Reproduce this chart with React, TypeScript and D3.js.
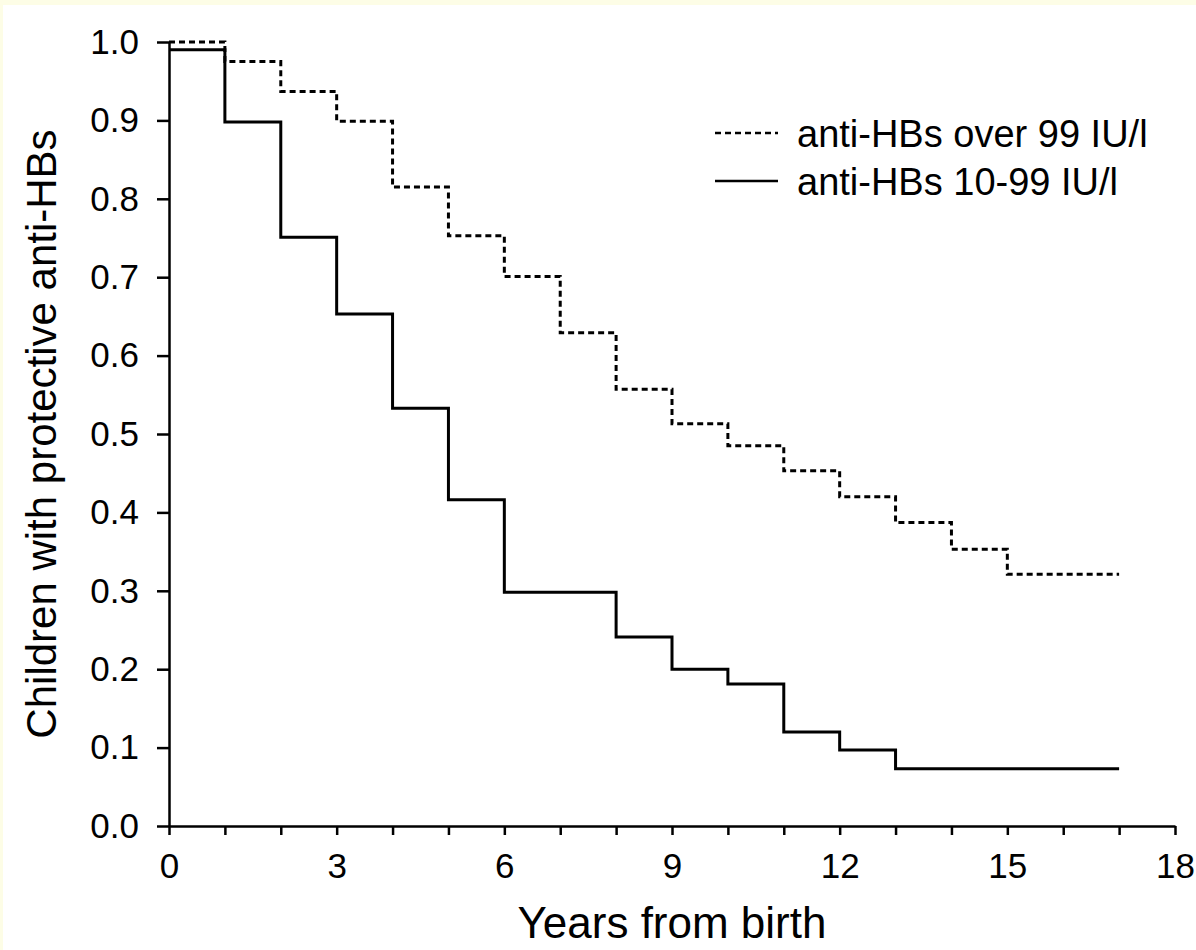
import * as d3 from 'd3';
import React, { useEffect, useRef } from 'react';

// years at which each curve steps, and the proportion still protected
const highYears = [0, 1, 2, 3, 4, 5, 6, 7, 8, 9, 10, 11, 12, 13, 14, 15, 17];
const highValues = [1.0, 0.975, 0.937, 0.899, 0.815, 0.753, 0.701, 0.629, 0.557, 0.513, 0.485, 0.453, 0.42, 0.387, 0.353, 0.321, 0.321];

const lowYears = [0, 1, 2, 3, 4, 5, 6, 8, 9, 10, 11, 12, 13, 17];
const lowValues = [0.99, 0.898, 0.751, 0.653, 0.533, 0.416, 0.298, 0.241, 0.2, 0.181, 0.12, 0.097, 0.073, 0.073];

const seriesNames = ['anti-HBs over 99 IU/l', 'anti-HBs 10-99 IU/l'];
const xTicks = [0, 3, 6, 9, 12, 15, 18];
const yTicks = [0, 0.1, 0.2, 0.3, 0.4, 0.5, 0.6, 0.7, 0.8, 0.9, 1.0];

const width = 1196;
const height = 950;
const font = 'Arial, "Liberation Sans", sans-serif';

export default function App() {
  const ref = useRef<SVGSVGElement | null>(null);

  useEffect(() => {
    const svg = d3.select(ref.current);
    svg.selectAll('*').remove();

    svg.append('rect').attr('width', width).attr('height', height).attr('fill', '#fff');
    svg.append('rect').attr('width', width).attr('height', 5).attr('fill', '#fdfde6');
    svg.append('rect').attr('width', 3).attr('height', height).attr('fill', '#fdfde6');

    const x = d3.scaleLinear().domain([0, 18]).range([169, 1175]);
    const y = d3.scaleLinear().domain([0, 1]).range([826, 42]);

    const line = d3.line<[number, number]>()
      .x((d) => x(d[0]))
      .y((d) => y(d[1]))
      .curve(d3.curveStepAfter);

    const high = highYears.map((t, i) => [t, highValues[i]] as [number, number]);
    const low = lowYears.map((t, i) => [t, lowValues[i]] as [number, number]);

    // axes
    const xAxis = svg.append('g')
      .attr('transform', `translate(0,${y(0)})`)
      .call(d3.axisBottom(x).tickValues(d3.range(0, 19)).tickSize(9).tickSizeOuter(0)
        .tickFormat((d) => (xTicks.includes(+d) ? String(d) : '')));
    xAxis.select('.domain').attr('stroke-width', 2.5);
    xAxis.selectAll('.tick line').attr('stroke-width', 2.5);
    xAxis.selectAll('.tick text')
      .attr('font-family', font).attr('font-size', 35).attr('fill', '#000').attr('dy', '1.15em');

    const yAxis = svg.append('g')
      .attr('transform', `translate(${x(0)},0)`)
      .call(d3.axisLeft(y).tickValues(yTicks).tickSize(12).tickSizeOuter(0).tickFormat(d3.format('.1f')));
    yAxis.select('.domain').attr('stroke-width', 2.5);
    yAxis.selectAll('.tick line').attr('stroke-width', 2.5);
    yAxis.selectAll('.tick text')
      .attr('font-family', font).attr('font-size', 35).attr('fill', '#000').attr('x', -30);

    // curves
    svg.append('path').attr('d', line(high)).attr('fill', 'none')
      .attr('stroke', '#000').attr('stroke-width', 3).attr('stroke-dasharray', '6,4');
    svg.append('path').attr('d', line(low)).attr('fill', 'none')
      .attr('stroke', '#000').attr('stroke-width', 3);

    // legend
    const legend = svg.append('g').attr('transform', 'translate(715,133)');
    seriesNames.forEach((name, i) => {
      const row = legend.append('g').attr('transform', `translate(0,${i * 48})`);
      row.append('line').attr('x1', 0).attr('x2', 63).attr('stroke', '#000').attr('stroke-width', 2.5)
        .attr('stroke-dasharray', i === 0 ? '6,4' : null);
      row.append('text').attr('x', 82).attr('dy', '0.36em')
        .attr('font-family', font).attr('font-size', 38).text(name);
    });

    // axis titles
    svg.append('text')
      .attr('x', (x(0) + x(18)) / 2).attr('y', 938).attr('text-anchor', 'middle')
      .attr('font-family', font).attr('font-size', 44).text('Years from birth');
    svg.append('text')
      .attr('transform', `translate(56,${(y(0) + y(1)) / 2}) rotate(-90)`).attr('text-anchor', 'middle')
      .attr('font-family', font).attr('font-size', 42).text('Children with protective anti-HBs');
  }, []);

  return (
    <svg ref={ref} width={width} height={height}
      style={{ position: 'absolute', left: 0, top: 0, display: 'block' }} />
  );
}
